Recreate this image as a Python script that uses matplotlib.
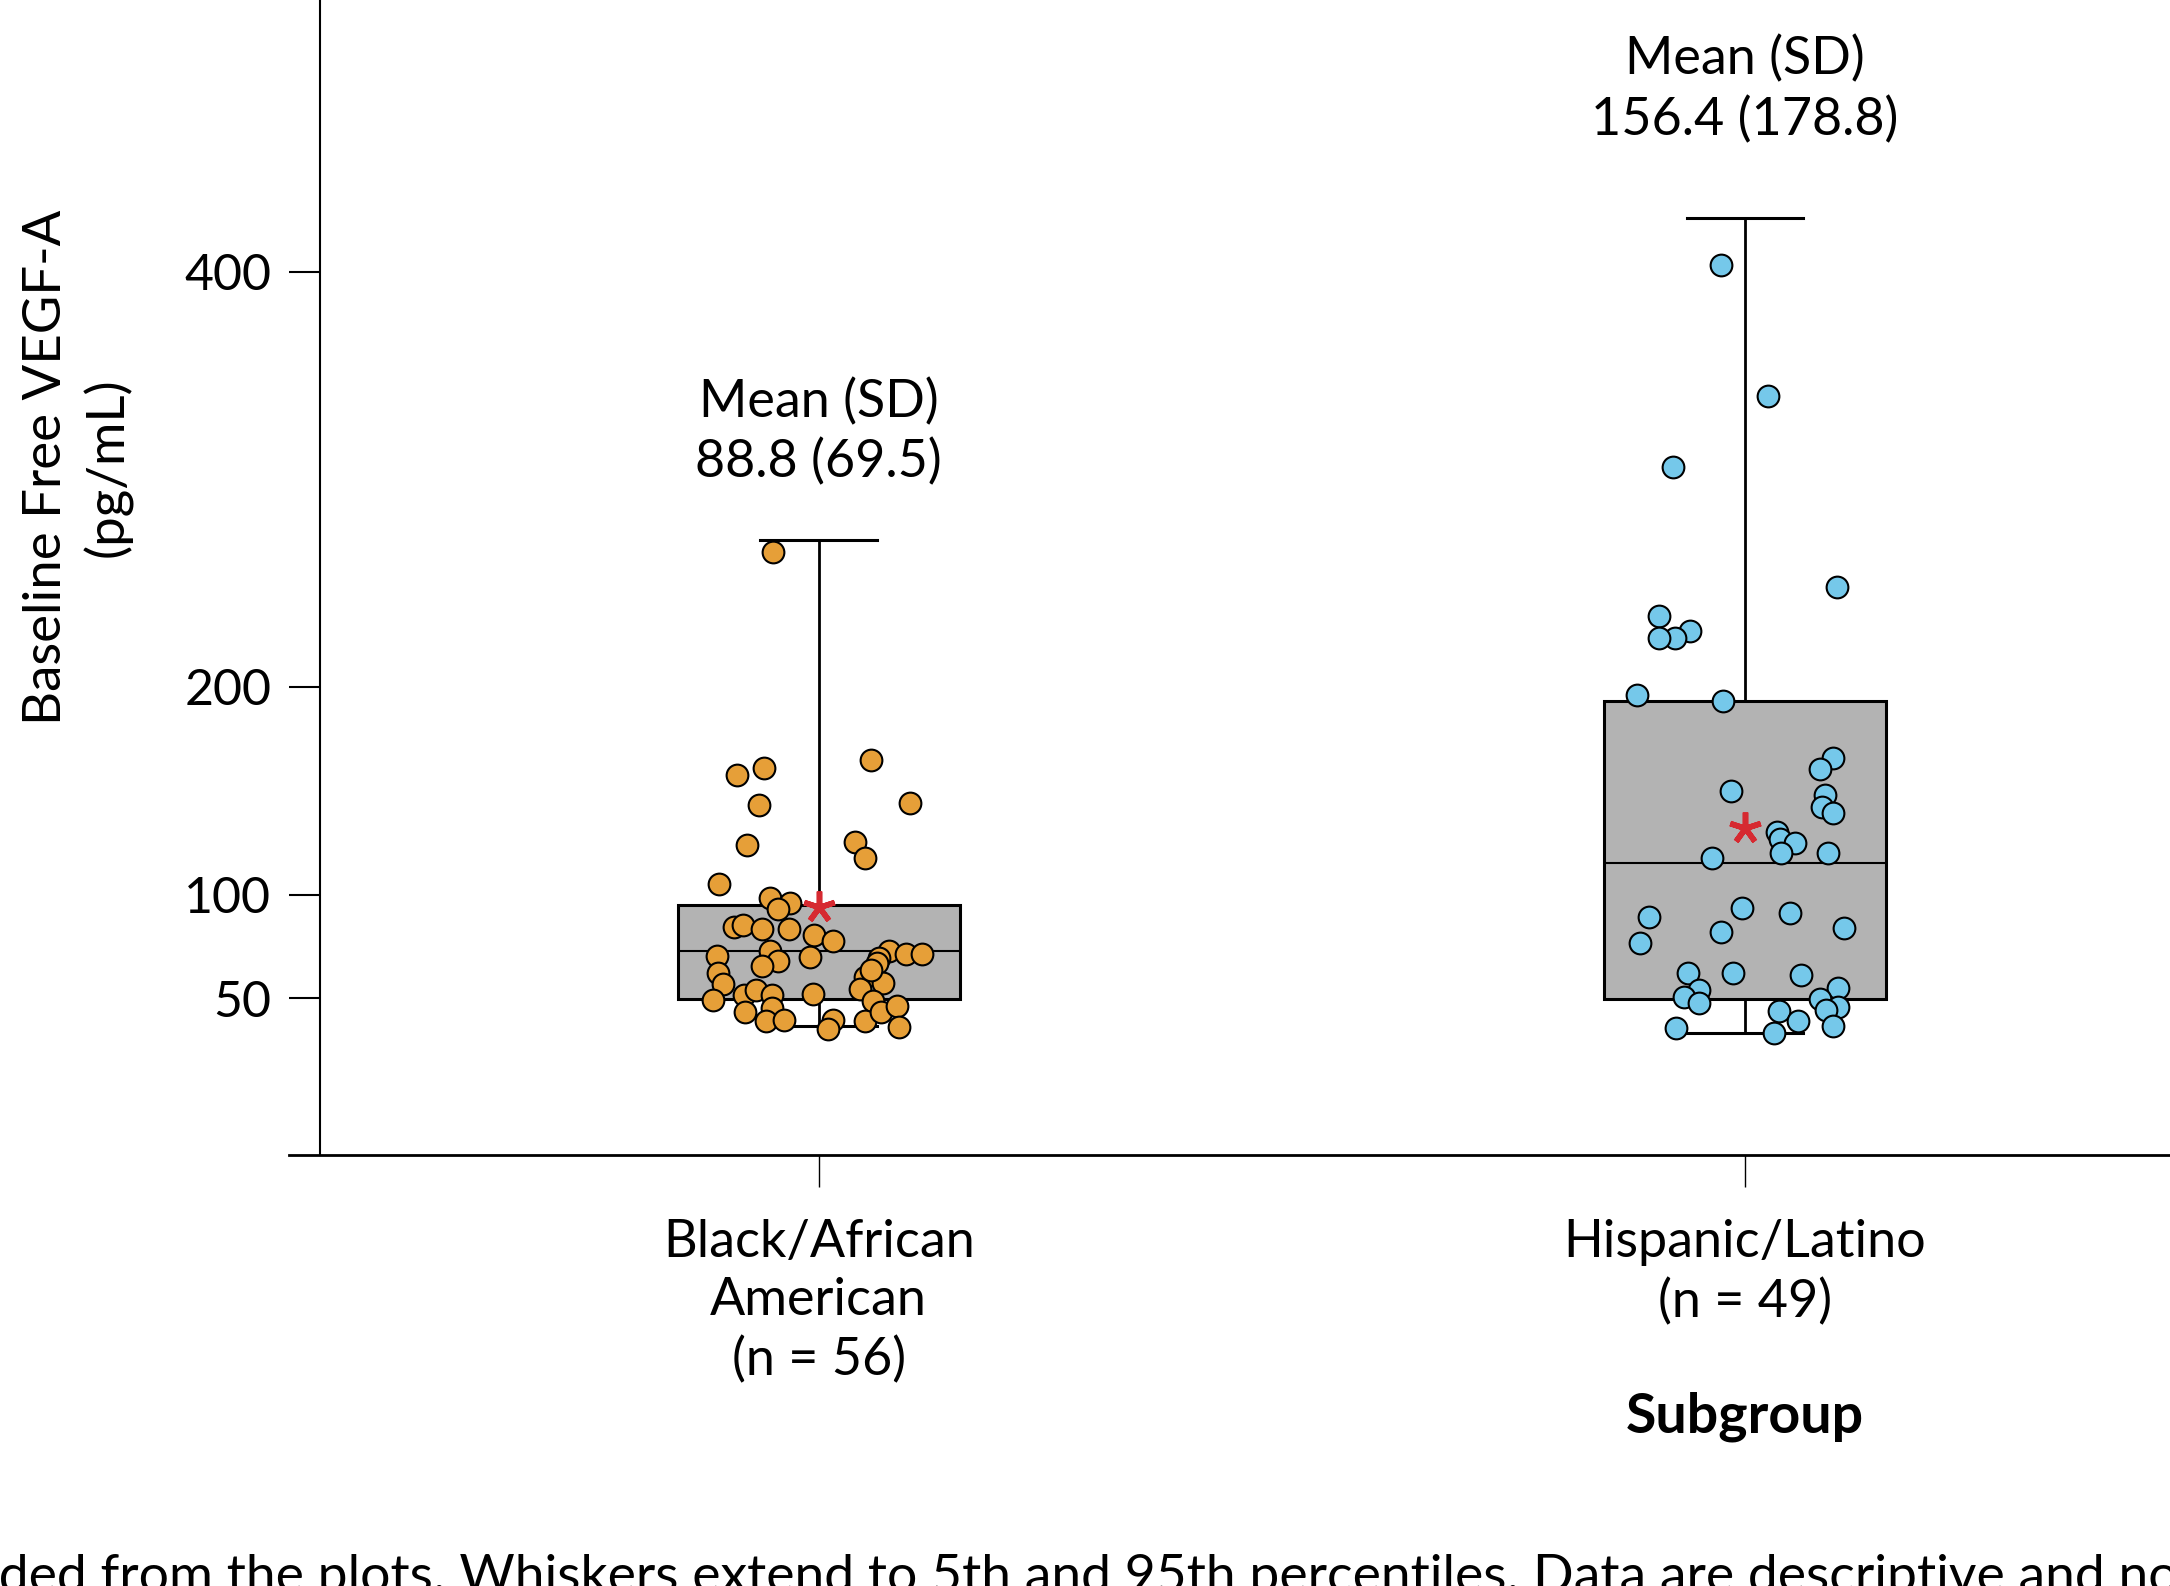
import numpy as np
import matplotlib.pyplot as plt
from matplotlib.transforms import blended_transform_factory

plt.rcParams['font.family'] = ['Lato', 'DejaVu Sans']

# subgroups
groups = ['Black/African\nAmerican', 'Hispanic/Latino']
n_counts = [56, 49]
means = [88.8, 156.4]
sds = [69.5, 178.8]
# mean of the plotted points (outliers left out), shown as the red asterisk
star_values = [94.1, 131.9]

# box statistics (whiskers = 5th / 95th percentiles)
p5 = [36.7, 33.4]
q1 = [49.5, 49.6]
medians = [73.0, 115.0]
q3 = [95.0, 193.2]
p95 = [270.8, 426.2]

# individual patients
black_vals = [157.5, 161.1, 164.8, 143.1, 144.2, 123.8, 125.4, 117.4, 105.0, 98.4,
              95.7, 92.8, 84.5, 85.3, 83.5, 83.2, 80.5, 77.6, 70.5, 72.9,
              68.1, 65.7, 70.0, 72.8, 71.2, 71.2, 69.2, 66.8, 62.0, 56.7,
              49.1, 51.6, 54.0, 51.6, 51.9, 60.4, 57.2, 54.4, 48.7, 43.5,
              45.1, 39.2, 39.5, 39.5, 35.0, 39.0, 43.5, 46.4, 36.3, 265.1, 63.6]
black_jit = [-0.088, -0.059, 0.056, -0.064, 0.098, -0.077, 0.039, 0.050, -0.108, -0.053,
             -0.031, -0.044, -0.091, -0.082, -0.061, -0.032, -0.005, 0.015, -0.110, -0.053,
             -0.044, -0.061, -0.009, 0.076, 0.094, 0.112, 0.065, 0.063, -0.109, -0.103,
             -0.114, -0.081, -0.068, -0.051, -0.006, 0.050, 0.069, 0.045, 0.059, -0.080,
             -0.050, -0.057, -0.038, 0.015, 0.010, 0.050, 0.067, 0.084, 0.087, -0.049, 0.056]

hisp_vals = [403.3, 340.1, 306.1, 248.3, 234.1, 227.1, 223.7, 223.7, 196.1, 193.2,
             165.9, 160.3, 150.0, 147.9, 142.3, 139.4, 130.2, 126.6, 124.6, 119.8,
             119.8, 117.4, 89.0, 76.5, 93.3, 81.8, 90.9, 84.0, 62.3, 62.3,
             61.2, 54.0, 50.7, 47.8, 55.1, 49.6, 45.9, 44.3, 36.8, 43.8,
             39.0, 33.1, 35.5]
hisp_jit = [-0.026, 0.025, -0.078, 0.099, -0.093, -0.059, -0.075, -0.093, -0.116, -0.024,
            0.095, 0.081, -0.015, 0.087, 0.083, 0.095, 0.035, 0.038, 0.054, 0.039,
            0.090, -0.036, -0.104, -0.113, -0.003, -0.026, 0.049, 0.107, -0.061, -0.013,
            0.061, -0.050, -0.066, -0.050, 0.100, 0.081, 0.100, 0.088, 0.095, 0.037,
            0.057, 0.031, -0.074]

colors = ['#e69f38', '#75c8ea']

W, H = 2170, 1586
fig = plt.figure(figsize=(W / 100, H / 100), dpi=100)
ax = fig.add_axes([289 / W, 1 - 1155 / H, 1 - 289 / W, 1155 / H])

stats = [dict(whislo=p5[i], q1=q1[i], med=medians[i], q3=q3[i], whishi=p95[i], fliers=[])
         for i in range(len(groups))]
ax.bxp(stats, positions=[0, 1], widths=0.305, capwidths=0.126, patch_artist=True,
       showfliers=False,
       boxprops=dict(facecolor='#b3b3b3', edgecolor='black', linewidth=2.2),
       medianprops=dict(color='black', linewidth=1.5),
       whiskerprops=dict(color='black', linewidth=2.0),
       capprops=dict(color='black', linewidth=2.2))

ax.scatter(0 + np.array(black_jit), black_vals, s=245, c=colors[0],
           edgecolors='black', linewidths=1.5, zorder=3)
ax.scatter(1 + np.array(hisp_jit), hisp_vals, s=245, c=colors[1],
           edgecolors='black', linewidths=1.5, zorder=3)
ax.plot([0, 1], star_values, linestyle='none', marker=(5, 2, 0), markersize=23,
        markeredgewidth=4, color='#d62a31', zorder=4)

# mean (SD) annotations above each group
for i, y in enumerate([301, 466]):
    ax.text(i, y, f'Mean (SD)\n{means[i]:.1f} ({sds[i]:.1f})', ha='center',
            va='baseline', fontsize=37.5, linespacing=1.3)

ax.set_xlim(-0.572, 1.459)
ax.set_ylim(-25.5, 531)
ax.spines[['top', 'right']].set_visible(False)
ax.spines['left'].set_position(('axes', 31 / (W - 289)))
ax.spines['left'].set_linewidth(1.5)
ax.spines['bottom'].set_linewidth(2.0)

ax.set_yticks([50, 100, 200, 400])
ax.tick_params(axis='y', direction='out', length=22, width=1.5, labelsize=36, pad=13)
ax.set_xticks([0, 1])
ax.set_xticklabels([f'{g}\n(n = {n})' for g, n in zip(groups, n_counts)], linespacing=1.3)
ax.tick_params(axis='x', direction='out', length=23, width=1, labelsize=37.5, pad=23)

fig.text(77.5 / W, 1 - 467 / H, 'Baseline Free VEGF-A\n(pg/mL)', rotation=90,
         ha='center', va='center', fontsize=38, linespacing=1.3, multialignment='center')

trans = blended_transform_factory(ax.transData, fig.transFigure)
ax.text(1, 1 - 1432 / H, 'Subgroup', transform=trans, ha='center', va='baseline',
        fontsize=40, fontweight='bold')

fig.text(-0.057, -0.004, 'excluded from the plots. Whiskers extend to 5th and 95th '
         'percentiles. Data are descriptive and not', ha='left', va='baseline', fontsize=38.5)

fig.savefig('out.png', dpi=100)
